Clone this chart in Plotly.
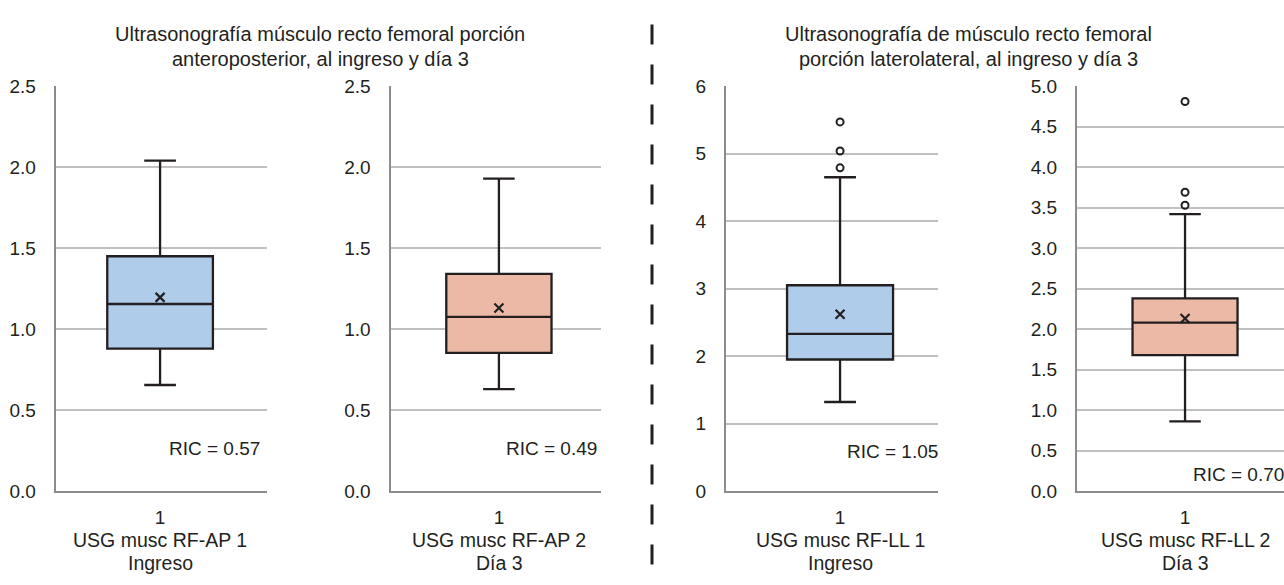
import plotly.graph_objects as go

# ---------------- data ----------------
tick_category = ["1"]
group_labels = ["USG musc RF-AP 1", "USG musc RF-AP 2", "USG musc RF-LL 1", "USG musc RF-LL 2"]
time_labels = ["Ingreso", "Día 3", "Ingreso", "Día 3"]
lower_vals = [0.655, 0.629, 1.32, 0.86]
q1_vals = [0.88, 0.853, 1.95, 1.68]
median_vals = [1.155, 1.076, 2.33, 2.08]
q3_vals = [1.45, 1.341, 3.05, 2.38]
upper_vals = [2.04, 1.929, 4.65, 3.42]
mean_vals = [1.196, 1.13, 2.62, 2.13]
outlier_vals = [[], [], [5.47, 5.04, 4.79], [4.81, 3.69, 3.53]]
ric_labels = ["RIC = 0.57", "RIC = 0.49", "RIC = 1.05", "RIC = 0.70"]
titles_ap = ["Ultrasonografía músculo recto femoral porción", "anteroposterior, al ingreso y día 3"]
titles_ll = ["Ultrasonografía de músculo recto femoral", "porción laterolateral, al ingreso y día 3"]

# ---------------- styles ----------------
W, H = 1284, 585
FONT = "Liberation Sans, Arial, Helvetica, sans-serif"
TXT = "#231F20"
fills = ["#AFCDEA", "#EBB9A5", "#AFCDEA", "#EBB9A5"]
x_px = [(55.7, 267), (390.5, 601), (726, 938), (1077, 1284)]
x_ranges = [[0.506, 1.506], [0.485, 1.485], [0.462, 1.462], [0.5, 1.458]]
y_ranges = [[0, 2.5], [0, 2.5], [0, 6], [0, 5]]
y_dticks = [0.5, 0.5, 1, 0.5]
y_fmt = [".1f", ".1f", "d", ".1f"]
box_w = [0.5, 0.5, 0.5, 0.486]
y_top, y_bot = 79, 499
ydom = [1 - y_bot / H, 1 - y_top / H]

def px(x):
    return x / W

def py(y):
    return 1 - y / H

fig = go.Figure()
layout = dict(
    width=W, height=H, autosize=False,
    margin=dict(l=0, r=0, t=0, b=0),
    paper_bgcolor="white", plot_bgcolor="white",
    showlegend=False,
    font=dict(family=FONT, size=19, color=TXT),
)

for i in range(4):
    xa = "x" if i == 0 else f"x{i+1}"
    ya = "y" if i == 0 else f"y{i+1}"
    fig.add_trace(go.Box(
        x=[1], q1=[q1_vals[i]], median=[median_vals[i]], q3=[q3_vals[i]],
        lowerfence=[lower_vals[i]], upperfence=[upper_vals[i]],
        boxpoints=False, fillcolor=fills[i],
        line=dict(color=TXT, width=2.3), whiskerwidth=0.3, width=box_w[i],
        xaxis=xa, yaxis=ya, hoverinfo="skip",
    ))
    fig.add_trace(go.Scatter(
        x=[1], y=[mean_vals[i]], mode="markers",
        marker=dict(symbol="x-thin", size=9, line=dict(color=TXT, width=2.2), color=TXT),
        xaxis=xa, yaxis=ya, hoverinfo="skip",
    ))
    if outlier_vals[i]:
        fig.add_trace(go.Scatter(
            x=[1] * len(outlier_vals[i]), y=outlier_vals[i], mode="markers",
            marker=dict(symbol="circle-open", size=7, line=dict(color=TXT, width=2), color=TXT),
            xaxis=xa, yaxis=ya, hoverinfo="skip",
        ))
    xkey = "xaxis" if i == 0 else f"xaxis{i+1}"
    ykey = "yaxis" if i == 0 else f"yaxis{i+1}"
    layout[xkey] = dict(
        domain=[px(x_px[i][0]), px(x_px[i][1])], range=x_ranges[i], anchor=ya,
        tickvals=[1], ticktext=tick_category, ticks="outside", ticklen=8,
        tickcolor="rgba(0,0,0,0)", showgrid=False, zeroline=False,
        showline=True, linecolor="#8C8C8C", linewidth=2,
        tickfont=dict(size=19, color=TXT, family=FONT), fixedrange=True,
    )
    layout[ykey] = dict(
        domain=ydom, range=y_ranges[i], anchor=xa, dtick=y_dticks[i], tick0=0,
        tickformat=y_fmt[i], ticks="outside", ticklen=14, tickcolor="rgba(0,0,0,0)",
        showgrid=True, gridcolor="#C0C0C0", gridwidth=1.5, zeroline=False,
        showline=True, linecolor="#8C8C8C", linewidth=2,
        tickfont=dict(size=19, color=TXT, family=FONT), fixedrange=True,
    )

annotations = []
label_cx = [160, 499, 840, 1185]
for i in range(4):
    annotations.append(dict(x=px(label_cx[i]), y=py(550), xref="paper", yref="paper",
                            text=group_labels[i], showarrow=False, xanchor="center", yanchor="middle",
                            font=dict(size=19.5, color=TXT, family=FONT)))
    annotations.append(dict(x=px(label_cx[i]), y=py(574), xref="paper", yref="paper",
                            text=time_labels[i], showarrow=False, xanchor="center", yanchor="middle",
                            font=dict(size=19.5, color=TXT, family=FONT)))

ric_pos = [(262, 455, "right"), (599, 455, "right"), (940, 458, "right"), (1191, 482, "left")]
for i, (xx, yy, anc) in enumerate(ric_pos):
    annotations.append(dict(x=px(xx), y=py(yy), xref="paper", yref="paper",
                            text=ric_labels[i], showarrow=False, xanchor=anc, yanchor="middle",
                            font=dict(size=19, color=TXT, family=FONT)))

title_y = [25, 51]
for j, t in enumerate(titles_ap):
    annotations.append(dict(x=px(320), y=py(title_y[j]), xref="paper", yref="paper", text=t,
                            showarrow=False, xanchor="center", yanchor="middle",
                            font=dict(size=20, color=TXT, family=FONT)))
for j, t in enumerate(titles_ll):
    annotations.append(dict(x=px(968), y=py(title_y[j]), xref="paper", yref="paper", text=t,
                            showarrow=False, xanchor="center", yanchor="middle",
                            font=dict(size=20, color=TXT, family=FONT)))

layout["annotations"] = annotations
layout["shapes"] = [dict(type="line", xref="paper", yref="paper",
                         x0=px(652), x1=px(652), y0=py(15), y1=0,
                         line=dict(color=TXT, width=3, dash="20px,20px"))]

fig.update_layout(**layout)
fig.write_html(
    "out.html",
    config={"displayModeBar": False},
    post_script="document.documentElement.style.margin='0';document.body.style.margin='0';"
                "document.body.style.overflow='hidden';",
)
